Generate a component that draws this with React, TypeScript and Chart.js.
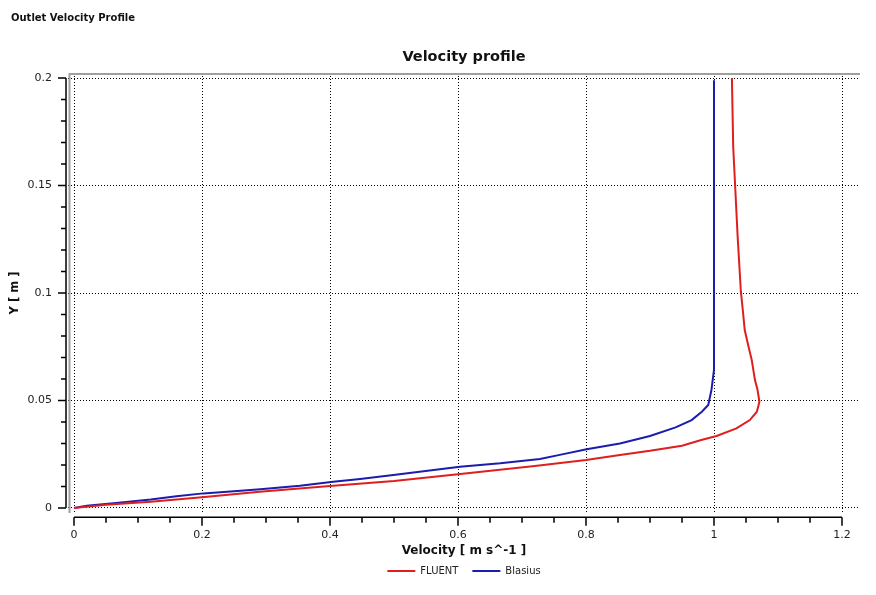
import { useEffect, useRef } from "react"
import { Chart, ChartConfiguration, Plugin, registerables } from "chart.js"

Chart.register(...registerables)

// FLUENT outlet profile (velocity vs. height)
const fluentVelocity = [0, 0.05, 0.12, 0.2, 0.29, 0.4, 0.5, 0.6, 0.72, 0.8, 0.853, 0.9, 0.95, 0.98, 1.004, 1.035, 1.056, 1.067, 1.071, 1.068, 1.064, 1.059, 1.054, 1.048, 1.045, 1.042, 1.037, 1.033, 1.03, 1.028]
const fluentY = [0, 0.0015, 0.0029, 0.005, 0.0076, 0.0102, 0.0126, 0.0157, 0.0195, 0.0223, 0.0247, 0.0266, 0.029, 0.0316, 0.0335, 0.037, 0.0409, 0.0448, 0.0494, 0.055, 0.0595, 0.0688, 0.075, 0.0828, 0.0921, 0.1006, 0.126, 0.15, 0.168, 0.2]

// Blasius solution
const blasiusVelocity = [0, 0.02, 0.07, 0.12, 0.16, 0.202, 0.25, 0.291, 0.353, 0.405, 0.447, 0.499, 0.603, 0.666, 0.728, 0.759, 0.801, 0.853, 0.9, 0.94, 0.965, 0.981, 0.991, 0.996, 1.0, 1.0]
const blasiusY = [0, 0.001, 0.0025, 0.004, 0.0055, 0.0068, 0.0078, 0.0087, 0.0104, 0.0122, 0.0135, 0.0153, 0.0192, 0.0208, 0.0228, 0.0247, 0.0273, 0.03, 0.0335, 0.0375, 0.0409, 0.0448, 0.0479, 0.0549, 0.0642, 0.199]

const xTicks = [0, 0.2, 0.4, 0.6, 0.8, 1, 1.2]
const yTicks = [0, 0.05, 0.1, 0.15, 0.2]
const xMinorPerMajor = 3
const yMinorPerMajor = 4

const FONT = "DejaVu Sans"

const toPoints = (xs: number[], ys: number[]) => xs.map((x, i) => ({ x, y: ys[i] }))

// axis lines with major/minor tick marks sit just outside the plot frame
const axesPlugin: Plugin = {
	id: "profileAxes",
	afterDraw(chart) {
		const { ctx, chartArea } = chart
		const xs = chart.scales.x
		const ys = chart.scales.y
		ctx.save()

		// grey frame, left and top
		ctx.strokeStyle = "#a0a0a0"
		ctx.lineWidth = 2
		ctx.beginPath()
		ctx.moveTo(chartArea.left + 1.5, chartArea.bottom)
		ctx.lineTo(chartArea.left + 1.5, chartArea.top + 1)
		ctx.lineTo(chartArea.right, chartArea.top + 1)
		ctx.stroke()

		ctx.strokeStyle = "#000"
		ctx.lineWidth = 1.5

		// x axis
		const axisY = chartArea.bottom + 4.3
		ctx.beginPath()
		ctx.moveTo(xs.getPixelForValue(xTicks[0]), axisY)
		ctx.lineTo(xs.getPixelForValue(xTicks[xTicks.length - 1]), axisY)
		xTicks.forEach((v, i) => {
			const px = xs.getPixelForValue(v)
			ctx.moveTo(px, axisY)
			ctx.lineTo(px, axisY + 8.5)
			if (i < xTicks.length - 1) {
				const step = (xTicks[i + 1] - v) / (xMinorPerMajor + 1)
				for (let k = 1; k <= xMinorPerMajor; k++) {
					const mx = xs.getPixelForValue(v + step * k)
					ctx.moveTo(mx, axisY)
					ctx.lineTo(mx, axisY + 5.5)
				}
			}
		})
		ctx.stroke()

		// y axis
		const axisX = chartArea.left - 2
		ctx.beginPath()
		ctx.moveTo(axisX, ys.getPixelForValue(yTicks[0]))
		ctx.lineTo(axisX, ys.getPixelForValue(yTicks[yTicks.length - 1]))
		yTicks.forEach((v, i) => {
			const py = ys.getPixelForValue(v)
			ctx.moveTo(axisX, py)
			ctx.lineTo(axisX - 8, py)
			if (i < yTicks.length - 1) {
				const step = (yTicks[i + 1] - v) / (yMinorPerMajor + 1)
				for (let k = 1; k <= yMinorPerMajor; k++) {
					const my = ys.getPixelForValue(v + step * k)
					ctx.moveTo(axisX, my)
					ctx.lineTo(axisX - 5, my)
				}
			}
		})
		ctx.stroke()
		ctx.restore()
	}
}

const fmt = (v: number) => String(Math.round(v * 100) / 100)

const config: ChartConfiguration<"scatter"> = {
	type: "scatter",
	data: {
		datasets: [
			{
				label: "FLUENT",
				data: toPoints(fluentVelocity, fluentY),
				showLine: true,
				borderColor: "#df1f1f",
				backgroundColor: "#df1f1f",
				borderWidth: 2,
				pointRadius: 0
			},
			{
				label: "Blasius",
				data: toPoints(blasiusVelocity, blasiusY),
				showLine: true,
				borderColor: "#1c1cad",
				backgroundColor: "#1c1cad",
				borderWidth: 2,
				pointRadius: 0
			}
		]
	},
	options: {
		animation: false,
		responsive: true,
		maintainAspectRatio: false,
		layout: {
			padding: { top: 49, right: 16, bottom: 9, left: 0 }
		},
		plugins: {
			title: {
				display: true,
				text: "Velocity profile",
				fullSize: false,
				color: "#111",
				font: { family: FONT, size: 14.5, weight: "bold" },
				padding: { top: 0, bottom: 6.6 }
			},
			legend: {
				position: "bottom",
				fullSize: false,
				labels: {
					usePointStyle: true,
					pointStyle: "line",
					pointStyleWidth: 28,
					padding: 14,
					color: "#222",
					font: { family: FONT, size: 10 }
				}
			},
			tooltip: { enabled: false }
		},
		scales: {
			x: {
				type: "linear",
				min: -0.009375,
				max: 1.228125,
				afterBuildTicks(scale) {
					scale.ticks = xTicks.map((value) => ({ value }))
				},
				afterFit(scale) {
					scale.height = 39
				},
				ticks: {
					autoSkip: false,
					maxRotation: 0,
					padding: 16,
					color: "#222",
					font: { family: FONT, size: 11 },
					callback: (v) => fmt(Number(v))
				},
				grid: {
					color: "#000",
					lineWidth: 1,
					drawTicks: false
				},
				border: { display: false, dash: [1, 2] },
				title: {
					display: true,
					text: "Velocity [ m s^-1 ]",
					color: "#111",
					font: { family: FONT, size: 12, weight: "bold" },
					padding: { top: 1.6, bottom: -6.2 }
				}
			},
			y: {
				type: "linear",
				min: -0.002326,
				max: 0.202326,
				afterBuildTicks(scale) {
					scale.ticks = yTicks.map((value) => ({ value }))
				},
				afterFit(scale) {
					scale.width = 68
				},
				ticks: {
					autoSkip: false,
					padding: 16,
					color: "#222",
					font: { family: FONT, size: 11 },
					callback: (v) => fmt(Number(v))
				},
				grid: {
					color: "#000",
					lineWidth: 1,
					drawTicks: false
				},
				border: { display: false, dash: [1, 2] },
				title: {
					display: true,
					text: "Y [ m ]",
					color: "#111",
					font: { family: FONT, size: 11.5, weight: "bold" },
					padding: { top: 8, bottom: 5 }
				}
			}
		}
	},
	plugins: [axesPlugin]
}

export default function App() {
	const canvasRef = useRef<HTMLCanvasElement>(null)

	useEffect(() => {
		const ctx = canvasRef.current?.getContext("2d") as CanvasRenderingContext2D
		const chart = new Chart(ctx, config)
		return () => {
			chart.destroy()
		}
	}, [])

	return (
		<div style={{ position: "fixed", left: 0, top: 0, width: 876, height: 595, background: "#fff" }}>
			<div
				style={{
					position: "absolute",
					left: 11,
					top: 12,
					font: `bold 10px "${FONT}"`,
					color: "#111"
				}}
			>
				Outlet Velocity Profile
			</div>
			<canvas ref={canvasRef}>Your browser does not support the canvas element.</canvas>
		</div>
	)
}
